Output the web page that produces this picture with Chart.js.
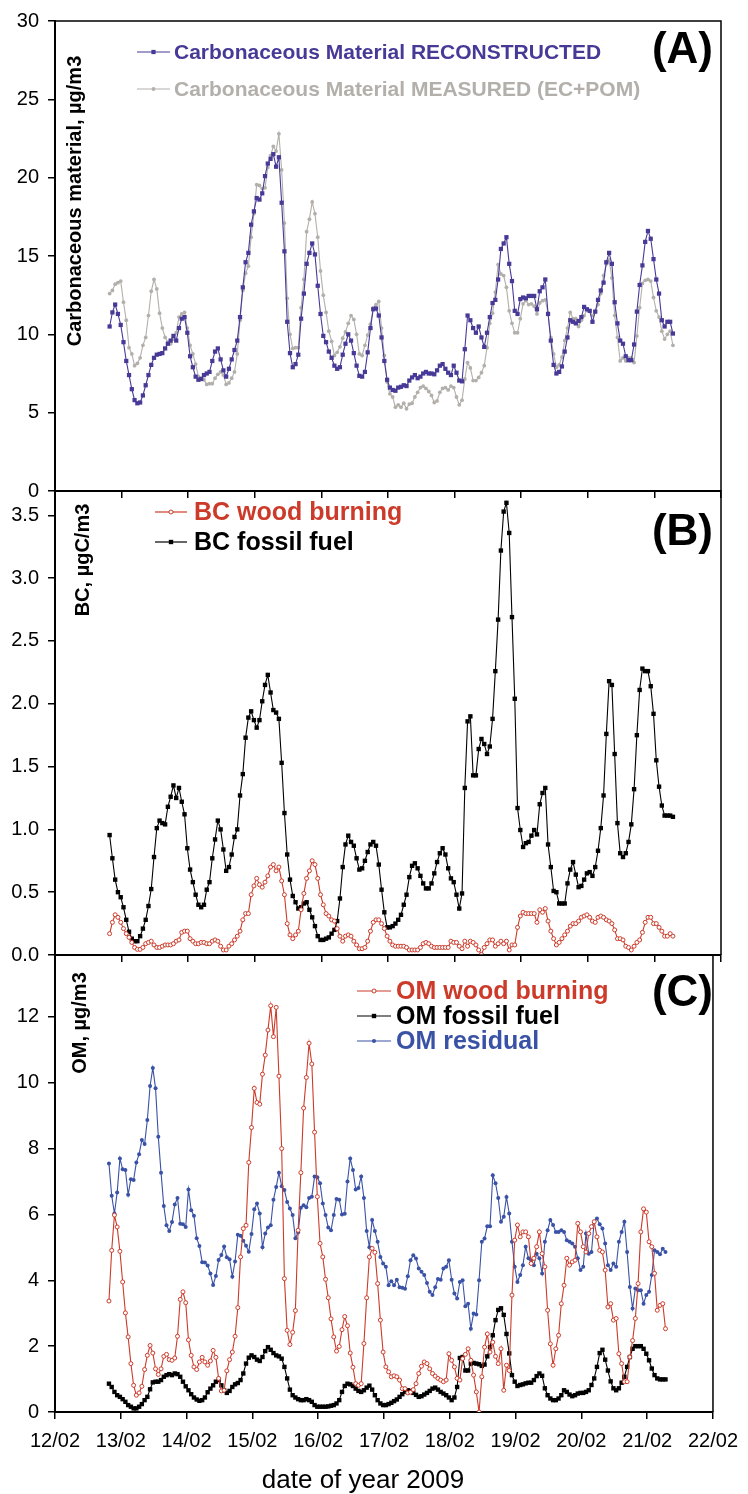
<!DOCTYPE html>
<html>
<head>
<meta charset="utf-8">
<script src="https://cdn.jsdelivr.net/npm/chart.js@4/dist/chart.umd.min.js"></script>
<style>
  html, body { margin: 0; padding: 0; background: #fff; }
  #wrap { position: relative; width: 748px; height: 1494px; }
  #wrap canvas { position: absolute; left: 0; top: 0; }
</style>
</head>
<body>
<div id="wrap">
  <canvas id="panelA" width="748" height="1494"></canvas>
  <canvas id="panelB" width="748" height="1494"></canvas>
  <canvas id="panelC" width="748" height="1494"></canvas>
</div>
<script>
// hourly samples, first one at day 12.82 of February 2009
const firstDay = 12.82;
const stepDay = 1 / 24;

// x axis: days and their labels
const xDays = [12, 13, 14, 15, 16, 17, 18, 19, 20, 21, 22];
const dayLabels = ['12/02', '13/02', '14/02', '15/02', '16/02', '17/02', '18/02', '19/02', '20/02', '21/02', '22/02'];

// (A) carbonaceous material, ug/m3
const cmReconstructed = [
  10.5, 11.4, 11.9, 11.3, 10.6, 9.5, 8.3, 7.4, 6.5, 5.8, 5.6, 5.65,
  6.1, 6.75, 7.4, 8.05, 8.5, 8.7, 8.75, 8.8, 9.1, 9.4, 9.6, 9.9,
  9.6, 10.4, 11.0, 11.1, 10.1, 8.6, 7.9, 7.3, 7.1, 7.15, 7.4, 7.5,
  7.6, 8.3, 8.9, 9.1, 8.4, 7.7, 7.3, 7.8, 8.4, 9.0, 9.6, 11.1,
  13.0, 14.6, 15.2, 17.0, 17.85, 18.7, 18.6, 19.0, 20.1, 20.9, 21.2, 21.5,
  20.7, 21.3, 18.4, 15.3, 10.8, 8.8, 7.9, 8.1, 8.7, 11.0, 12.6, 14.5,
  15.2, 15.8, 15.1, 13.1, 11.3, 9.9, 9.5, 8.9, 8.5, 8.0, 7.8, 7.9,
  8.7, 9.4, 10.0, 9.6, 8.8, 8.0, 7.35, 7.3, 7.6, 8.85, 10.4, 11.6,
  11.65, 11.2, 9.8, 8.3, 7.1, 6.6, 6.45, 6.4, 6.6, 6.65, 6.75, 6.7,
  7.05, 7.25, 7.4, 7.2, 7.3, 7.5, 7.6, 7.5, 7.5, 7.45, 7.7, 8.0,
  8.1, 7.8, 7.55, 7.4, 8.0, 7.55, 7.05, 7.0, 9.05, 11.2, 10.9, 10.4,
  10.1, 10.5, 9.8, 9.2, 10.1, 11.1, 12.0, 12.2, 13.5, 15.45, 15.8, 16.2,
  14.5, 13.4, 11.5, 11.3, 12.25, 12.35, 12.3, 12.45, 12.45, 12.45, 11.6, 12.75,
  13.0, 13.5, 11.3, 9.6, 8.05, 7.5, 7.6, 7.95, 8.9, 9.8, 10.9, 10.8,
  10.7, 10.85, 11.1, 11.75, 11.6, 11.5, 10.8, 11.45, 12.2, 12.8, 13.3, 14.6,
  15.2, 14.5, 12.05, 10.7, 9.6, 9.4, 8.6, 8.35, 8.35, 9.35, 11.45, 13.15,
  14.4, 15.9, 16.6, 16.1, 14.8, 13.5, 12.6, 10.9, 10.5, 10.8, 10.8, 10.05
];
const cmMeasured = [
  12.6, 12.8, 13.2, 13.3, 13.4, 12.05, 10.9, 9.15, 8.75, 8.0, 8.15, 8.5,
  9.3, 9.8, 11.2, 12.75, 13.5, 12.9, 11.35, 10.4, 9.8, 9.5, 9.4, 9.7,
  10.1, 11.1, 11.3, 11.4, 10.4, 9.3, 8.75, 8.1, 7.3, 7.2, 7.1, 6.8,
  6.85, 6.85, 7.2, 7.45, 7.6, 7.4, 6.8, 6.9, 7.2, 7.6, 8.75, 10.9,
  12.8, 13.9, 14.35, 16.2, 17.7, 19.55, 19.5, 19.3, 19.35, 20.65, 21.4, 22.0,
  21.7, 22.8, 20.5, 17.1, 12.3, 10.0, 9.1, 9.15, 9.15, 11.7, 13.5, 16.55,
  17.35, 18.45, 17.7, 16.2, 14.05, 12.5, 11.4, 10.2, 9.55, 8.65, 8.85, 9.2,
  9.75, 10.15, 10.7, 11.2, 10.95, 10.0, 8.75, 8.65, 9.3, 9.95, 10.65, 11.7,
  11.9, 12.1, 10.4, 8.65, 6.95, 6.2, 6.0, 5.35, 5.5, 5.35, 5.6, 5.25,
  5.55, 5.6, 6.0, 6.3, 6.6, 6.7, 6.55, 6.35, 6.1, 5.65, 5.75, 6.3,
  6.55, 6.6, 6.45, 6.7, 6.6, 6.0, 5.5, 5.8, 7.15, 8.2, 7.85, 7.05,
  7.05, 7.25, 7.55, 8.0, 9.15, 10.7, 11.35, 12.7, 14.45, 13.85, 13.75, 13.0,
  11.5, 10.7, 10.1, 10.1, 11.0, 11.95, 12.15, 11.9, 11.95, 11.8, 11.3, 12.0,
  12.15, 12.2, 11.35, 9.8, 8.75, 7.9, 8.05, 8.55, 9.6, 10.4, 11.4, 11.0,
  11.0, 10.5, 10.9, 11.2, 11.55, 11.5, 11.2, 11.45, 11.9, 12.6, 13.75, 14.5,
  14.75, 13.6, 11.2, 9.8, 8.3, 8.5, 8.3, 8.5, 8.5, 8.2, 9.9, 11.7,
  13.25, 13.45, 13.5, 13.4, 12.35, 11.5, 11.1, 10.2, 9.7, 10.0, 10.2, 9.3
];

// (B) black carbon, ugC/m3
const bcWood = [
  0.17, 0.26, 0.32, 0.30, 0.26, 0.21, 0.17, 0.14, 0.10, 0.06, 0.045, 0.045,
  0.06, 0.09, 0.10, 0.11, 0.08, 0.06, 0.06, 0.07, 0.08, 0.08, 0.08, 0.09,
  0.11, 0.12, 0.18, 0.19, 0.19, 0.13, 0.11, 0.09, 0.09, 0.10, 0.10, 0.09,
  0.09, 0.11, 0.12, 0.11, 0.07, 0.04, 0.04, 0.07, 0.09, 0.12, 0.15, 0.19,
  0.28, 0.33, 0.33, 0.48, 0.55, 0.61, 0.56, 0.54, 0.58, 0.63, 0.70, 0.72,
  0.67, 0.70, 0.59, 0.48, 0.25, 0.16, 0.13, 0.16, 0.19, 0.36, 0.49, 0.61,
  0.67, 0.75, 0.72, 0.61, 0.48, 0.40, 0.33, 0.31, 0.28, 0.27, 0.21, 0.15,
  0.11, 0.15, 0.16, 0.15, 0.11, 0.08, 0.05, 0.05, 0.06, 0.11, 0.19, 0.26,
  0.28, 0.28, 0.25, 0.21, 0.15, 0.11, 0.08, 0.07, 0.07, 0.07, 0.07, 0.06,
  0.04, 0.04, 0.04, 0.04, 0.06, 0.09, 0.10, 0.09, 0.07, 0.06, 0.06, 0.06,
  0.06, 0.06, 0.06, 0.11, 0.10, 0.10, 0.07, 0.05, 0.11, 0.07, 0.11, 0.10,
  0.08, 0.04, 0.005, 0.06, 0.09, 0.12, 0.12, 0.07, 0.09, 0.11, 0.09, 0.11,
  0.04, 0.08, 0.08, 0.22, 0.31, 0.34, 0.33, 0.33, 0.33, 0.33, 0.26, 0.36,
  0.34, 0.37, 0.27, 0.19, 0.13, 0.08, 0.10, 0.13, 0.16, 0.19, 0.23, 0.25,
  0.25, 0.27, 0.30, 0.31, 0.32, 0.30, 0.27, 0.26, 0.30, 0.31, 0.30, 0.28,
  0.27, 0.25, 0.20, 0.13, 0.13, 0.12, 0.07, 0.06, 0.04, 0.07, 0.10, 0.12,
  0.18, 0.26, 0.30, 0.30, 0.25, 0.25, 0.22, 0.19, 0.15, 0.15, 0.17, 0.15
];
const bcFossil = [
  0.955, 0.77, 0.6, 0.5, 0.46, 0.38, 0.28, 0.185, 0.13, 0.11, 0.11, 0.15,
  0.21, 0.28, 0.39, 0.525, 0.78, 1.01, 1.07, 1.05, 1.04, 1.18, 1.26, 1.35,
  1.25, 1.33, 1.22, 1.12, 0.85, 0.68, 0.58, 0.48, 0.4, 0.38, 0.4, 0.52,
  0.58, 0.77, 0.92, 1.07, 1.0, 0.84, 0.67, 0.7, 0.8, 0.94, 1.0, 1.27,
  1.44, 1.73, 1.89, 1.94, 1.87, 1.81, 1.87, 2.02, 2.15, 2.23, 2.09, 1.95,
  1.93, 1.88, 1.53, 1.13, 0.8, 0.6, 0.47, 0.42, 0.37, 0.38, 0.41, 0.42,
  0.36, 0.3, 0.23, 0.15, 0.12, 0.12, 0.13, 0.14, 0.17, 0.2, 0.27, 0.45,
  0.7, 0.88, 0.95, 0.9, 0.87, 0.77, 0.68, 0.69, 0.75, 0.82, 0.88, 0.9,
  0.87, 0.72, 0.52, 0.34, 0.22, 0.22, 0.23, 0.25, 0.28, 0.32, 0.4, 0.48,
  0.62, 0.71, 0.73, 0.69, 0.63, 0.57, 0.53, 0.53, 0.57, 0.65, 0.74, 0.81,
  0.85, 0.8, 0.69, 0.61, 0.58, 0.48, 0.37, 0.49, 1.33, 1.86, 1.9, 1.43,
  1.43, 1.64, 1.72, 1.68, 1.6, 1.66, 1.88, 2.26, 2.67, 3.22, 3.53, 3.6,
  3.36, 2.69, 2.04, 1.17, 0.995, 0.86, 0.89, 0.9, 0.95, 0.995, 0.96, 1.2,
  1.29, 1.33, 0.88, 0.7, 0.51, 0.5, 0.41, 0.41, 0.41, 0.57, 0.68, 0.74,
  0.64, 0.54, 0.55, 0.6, 0.65, 0.66, 0.63, 0.7, 0.83, 1.01, 1.27, 1.76,
  2.18, 2.15, 1.6, 1.05, 0.81, 0.78, 0.81, 0.9, 1.04, 1.32, 1.75, 2.11,
  2.28, 2.26, 2.26, 2.14, 1.92, 1.55, 1.34, 1.19, 1.11, 1.11, 1.11, 1.1
];

// (C) organic matter, ug/m3
const omWood = [
  3.37, 4.91, 5.98, 5.62, 4.88, 3.95, 3.01, 2.28, 1.47, 0.81, 0.51, 0.58,
  0.78, 1.29, 1.72, 2.02, 1.79, 1.31, 1.14, 1.31, 1.69, 1.75, 1.59, 1.57,
  1.64, 2.3, 3.42, 3.65, 3.32, 2.19, 1.72, 1.37, 1.29, 1.52, 1.66, 1.52,
  1.42, 1.55, 1.87, 1.66, 1.02, 0.64, 0.66, 1.25, 1.59, 1.82, 2.3, 3.17,
  4.71, 5.57, 5.67, 7.58, 8.64, 9.83, 9.4, 9.35, 10.26, 10.84, 11.6, 12.34,
  11.4, 12.29, 10.2, 8.0, 4.05, 2.48, 2.05, 2.42, 3.08, 5.52, 7.27, 9.23,
  10.16, 11.2, 10.57, 8.5, 6.54, 5.12, 4.71, 4.03, 3.47, 2.83, 2.28, 1.85,
  1.99, 2.5, 2.9, 2.62, 1.79, 1.36, 0.86, 0.81, 0.86, 2.08, 3.47, 4.71,
  4.97, 4.85, 3.9, 2.79, 1.82, 1.37, 1.22, 1.07, 1.1, 1.07, 0.97, 0.71,
  0.71, 0.58, 0.6, 0.68, 0.86, 1.17, 1.39, 1.52, 1.47, 1.31, 1.17, 1.09,
  1.02, 0.97, 0.92, 0.97, 1.77, 1.57, 1.37, 1.02, 0.97, 1.62, 1.75, 1.92,
  1.57, 1.12, 0.61, 0.0, 1.07, 1.97, 2.37, 1.82, 2.12, 1.69, 1.47, 1.92,
  0.66, 1.42, 1.26, 3.55, 5.22, 5.68, 5.32, 5.47, 5.47, 5.32, 4.51, 4.67,
  5.02, 5.47, 4.81, 4.41, 3.09, 2.07, 1.42, 1.92, 2.33, 3.29, 3.85, 4.67,
  4.46, 4.56, 4.61, 5.73, 5.47, 5.02, 4.86, 5.42, 5.63, 5.78, 5.32, 4.91,
  4.86, 4.31, 3.19, 3.29, 2.79, 2.84, 1.77, 1.47, 0.92, 0.92, 1.67, 2.17,
  2.84, 3.9, 5.47, 6.17, 6.07, 5.17, 5.02, 4.21, 3.09, 3.24, 3.29, 2.53
];
const omFossil = [
  0.86, 0.76, 0.61, 0.51, 0.46, 0.39, 0.31, 0.21, 0.16, 0.11, 0.11, 0.16,
  0.24, 0.36, 0.46, 0.69, 0.9, 0.92, 0.92, 0.97, 1.07, 1.12, 1.15, 1.12,
  1.17, 1.15, 1.07, 0.92, 0.78, 0.66, 0.54, 0.44, 0.38, 0.34, 0.36, 0.44,
  0.6, 0.71, 0.81, 0.92, 0.97, 0.81, 0.66, 0.58, 0.64, 0.76, 0.84, 0.88,
  0.97, 1.17, 1.47, 1.65, 1.72, 1.67, 1.59, 1.55, 1.67, 1.85, 1.97, 1.89,
  1.79, 1.72, 1.69, 1.62, 1.37, 1.02, 0.68, 0.51, 0.44, 0.39, 0.36, 0.36,
  0.39, 0.36, 0.31, 0.21, 0.16, 0.16, 0.16, 0.16, 0.17, 0.19, 0.21, 0.26,
  0.36, 0.61, 0.79, 0.86, 0.84, 0.79, 0.71, 0.64, 0.61, 0.66, 0.74, 0.8,
  0.68, 0.51, 0.36, 0.26, 0.21, 0.21, 0.24, 0.28, 0.33, 0.38, 0.46, 0.54,
  0.61, 0.66, 0.64, 0.58, 0.52, 0.46, 0.48, 0.53, 0.58, 0.64, 0.71, 0.74,
  0.68, 0.61, 0.56, 0.51, 0.44, 0.36, 0.44, 0.76, 1.64, 1.67, 1.26, 1.26,
  1.47, 1.49, 1.47, 1.45, 1.4, 1.44, 1.69, 1.97, 2.33, 2.79, 3.1, 3.15,
  2.95, 2.37, 1.78, 1.12, 0.92, 0.79, 0.82, 0.84, 0.87, 0.89, 0.89, 0.97,
  1.09, 1.17, 1.1, 0.72, 0.51, 0.41, 0.36, 0.36, 0.41, 0.51, 0.66, 0.61,
  0.53, 0.48, 0.51, 0.56, 0.58, 0.58, 0.61, 0.66, 0.82, 1.02, 1.37, 1.79,
  1.89, 1.59, 1.26, 0.93, 0.72, 0.66, 0.72, 0.89, 1.07, 1.37, 1.67, 1.92,
  2.0, 2.0, 2.0, 1.92, 1.77, 1.57, 1.32, 1.12, 1.02, 0.99, 0.99, 0.99
];
const omResidual = [
  7.55, 6.57, 6.03, 6.67, 7.7, 7.37, 7.35, 6.6, 7.07, 7.05, 7.58, 7.83,
  8.26, 8.14, 8.87, 9.9, 10.45, 9.83, 8.36, 7.27, 6.26, 5.67, 5.5, 5.77,
  6.3, 6.5, 5.72, 5.7, 5.62, 6.76, 6.13, 5.96, 5.28, 5.04, 4.55, 4.54,
  4.45, 4.21, 3.86, 4.13, 4.62, 4.77, 5.03, 4.7, 4.64, 4.11, 4.57, 5.38,
  5.35, 5.2, 5.05, 4.87, 5.41, 6.16, 6.33, 6.03, 5.0, 5.42, 5.6, 5.67,
  6.45, 6.83, 7.27, 6.86, 6.74, 6.38, 6.18, 5.98, 5.28, 5.45, 6.2, 6.28,
  6.22, 6.5, 6.54, 7.15, 7.13, 6.95, 6.33, 5.98, 5.6, 5.52, 5.98, 6.47,
  6.45, 6.0, 6.02, 7.0, 7.7, 7.35, 6.76, 6.8, 7.15, 6.5, 5.5, 5.0,
  5.83, 5.5, 5.17, 4.71, 4.51, 4.41, 3.85, 3.97, 3.85, 4.02, 3.79, 3.77,
  3.74, 4.12, 4.61, 4.76, 4.66, 4.36, 4.26, 4.16, 3.92, 3.65, 3.55, 3.79,
  4.04, 4.02, 4.36, 4.41, 4.61, 4.02, 3.6, 3.45, 3.95, 4.0, 3.21, 3.29,
  2.53, 2.99, 2.96, 4.0, 5.17, 5.27, 5.64, 5.64, 7.19, 6.95, 6.5, 5.78,
  5.93, 6.53, 6.03, 5.17, 4.41, 3.95, 4.16, 4.46, 5.02, 4.67, 4.61, 4.46,
  4.81, 4.67, 4.21, 5.17, 5.52, 5.83, 5.68, 5.47, 5.47, 5.52, 5.47, 5.22,
  5.17, 5.12, 5.02, 4.67, 4.31, 4.41, 5.42, 4.81, 4.86, 5.78, 5.88, 5.7,
  5.57, 5.12, 4.46, 4.31, 4.51, 4.41, 5.17, 5.47, 5.78, 4.86, 3.8, 3.14,
  3.75, 3.7, 3.7, 3.29, 3.55, 3.65, 4.16, 4.91, 4.86, 4.79, 4.96, 4.86
];

const FONT = '"Liberation Sans", Arial, Helvetica, sans-serif';
Chart.defaults.font.family = FONT;

const purple = '#473a97';
const grey = '#b3afab';
const red = '#cc3b2a';
const black = '#000000';
const blue = '#3a52a6';

function series(label, values, color, style, radius, hollow) {
  return {
    label: label,
    data: values.map((v, i) => ({ x: firstDay + i * stepDay, y: v })),
    borderColor: color,
    borderWidth: 1.1,
    pointStyle: style,
    pointRadius: radius,
    pointBackgroundColor: hollow ? '#ffffff' : color,
    pointBorderColor: color,
    pointBorderWidth: hollow ? 1 : 0,
    tension: 0
  };
}

// frame, rotated y title, panel tag and legend drawn onto each panel
const panelDecor = {
  id: 'panelDecor',
  afterDraw(chart, args, o) {
    const ctx = chart.ctx;
    const a = chart.chartArea;
    ctx.save();
    ctx.strokeStyle = '#000';
    ctx.lineWidth = 1.5;
    ctx.beginPath();
    ctx.moveTo(a.left, a.top);
    ctx.lineTo(a.right, a.top);
    ctx.lineTo(a.right, a.bottom);
    ctx.stroke();

    ctx.fillStyle = '#000';
    ctx.font = 'bold 20px ' + FONT;
    ctx.textAlign = 'center';
    ctx.textBaseline = 'middle';
    ctx.save();
    ctx.translate(o.titleX, o.titleY);
    ctx.rotate(-Math.PI / 2);
    ctx.fillText(o.title, 0, 0);
    ctx.restore();

    ctx.font = 'bold 44px ' + FONT;
    ctx.textAlign = 'right';
    ctx.textBaseline = 'alphabetic';
    ctx.fillText(o.tag, 713, o.tagY);

    chart.data.datasets.forEach((ds, i) => {
      const y = o.legY + i * o.legDy;
      ctx.strokeStyle = ds.borderColor;
      ctx.lineWidth = 1.2;
      ctx.beginPath();
      ctx.moveTo(o.legX, y);
      ctx.lineTo(o.legX + o.legLen, y);
      ctx.stroke();
      ctx.fillStyle = ds.pointBackgroundColor;
      ctx.strokeStyle = ds.pointBorderColor;
      ctx.lineWidth = ds.pointBorderWidth;
      Chart.helpers.drawPoint(ctx, { pointStyle: ds.pointStyle, radius: ds.pointRadius, borderWidth: ds.pointBorderWidth, rotation: 0 }, o.legX + o.legLen / 2, y);
      ctx.fillStyle = ds.borderColor;
      ctx.font = 'bold ' + o.legFont + 'px ' + FONT;
      ctx.textAlign = 'left';
      ctx.textBaseline = 'middle';
      ctx.fillText(ds.label, o.legTextX, y + 1);
    });

    if (o.xTitle) {
      ctx.fillStyle = '#000';
      ctx.font = '26px ' + FONT;
      ctx.textAlign = 'center';
      ctx.textBaseline = 'alphabetic';
      ctx.fillText(o.xTitle, o.xTitleX, o.xTitleY);
    }
    ctx.restore();
  }
};

function xScale(show) {
  return {
    type: 'linear',
    min: 12,
    max: 22,
    afterFit: s => { s.height = show ? 62 : 8; },
    border: { display: true, color: '#000', width: 2 },
    grid: { drawOnChartArea: false, drawTicks: true, tickLength: 7, color: '#000', lineWidth: 1.5 },
    ticks: {
      display: show, stepSize: 1, padding: 10, maxRotation: 0, autoSkip: false,
      color: '#000', font: { family: FONT, size: 20 },
      callback: v => dayLabels[xDays.indexOf(v)]
    }
  };
}

function yScale(max, step, digits) {
  return {
    min: 0,
    max: max,
    afterFit: s => { s.width = 55; },
    border: { display: true, color: '#000', width: 2 },
    grid: { drawOnChartArea: false, drawTicks: true, tickLength: 7, color: '#000', lineWidth: 1.5 },
    ticks: {
      stepSize: step, includeBounds: false, padding: 9,
      color: '#000', font: { family: FONT, size: 20 },
      callback: v => v.toFixed(digits)
    }
  };
}

function makePanel(id, datasets, y, top, bottom, showX, decor) {
  return new Chart(document.getElementById(id), {
    type: 'line',
    data: { datasets: datasets },
    options: {
      responsive: false,
      animation: false,
      devicePixelRatio: 1,
      events: [],
      layout: { padding: { left: 0, right: 27, top: top, bottom: bottom } },
      scales: { x: xScale(showX), y: y },
      plugins: { legend: { display: false }, tooltip: { enabled: false }, panelDecor: decor }
    },
    plugins: [panelDecor]
  });
}

makePanel('panelA', [
  series('Carbonaceous Material RECONSTRUCTED', cmReconstructed, purple, 'rect', 3, false),
  series('Carbonaceous Material MEASURED (EC+POM)', cmMeasured, grey, 'circle', 1.9, false)
], yScale(30, 5, 0), 20, 1494 - 491 - 8, false, {
  title: 'Carbonaceous material, µg/m3', titleX: 75, titleY: 201,
  tag: '(A)', tagY: 63,
  legX: 137, legLen: 33, legTextX: 174, legY: 52, legDy: 37, legFont: 21
});

makePanel('panelB', [
  series('BC wood burning', bcWood, red, 'circle', 2, true),
  series('BC fossil fuel', bcFossil, black, 'rect', 3.1, false)
], yScale(3.694, 0.5, 1), 491, 1494 - 955 - 8, false, {
  title: 'BC, µgC/m3', titleX: 83, titleY: 560,
  tag: '(B)', tagY: 545,
  legX: 155, legLen: 32, legTextX: 194, legY: 512, legDy: 30, legFont: 25
});

makePanel('panelC', [
  series('OM wood burning', omWood, red, 'circle', 2, true),
  series('OM fossil fuel', omFossil, black, 'rect', 3.1, false),
  series('OM residual', omResidual, blue, 'circle', 2, false)
], yScale(13.88, 2, 0), 955, 1494 - 1412 - 62, true, {
  title: 'OM, µg/m3', titleX: 80, titleY: 1023,
  tag: '(C)', tagY: 1006,
  legX: 357, legLen: 34, legTextX: 396, legY: 991, legDy: 25, legFont: 25,
  xTitle: 'date of year 2009', xTitleX: 363, xTitleY: 1488
});
</script>
</body>
</html>
